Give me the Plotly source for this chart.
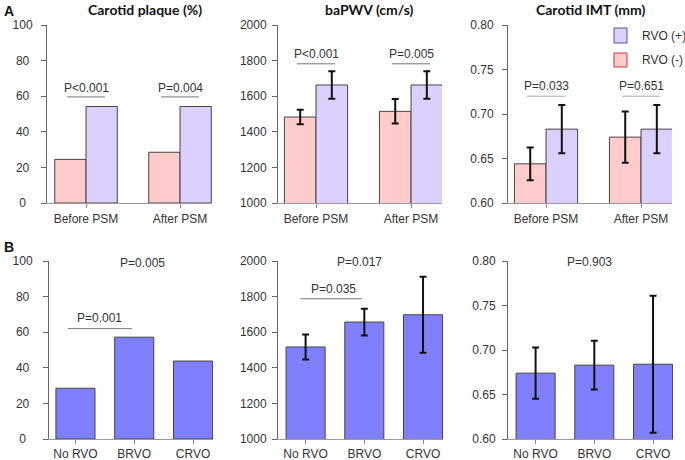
import plotly.graph_objects as go

# ---------------- data ----------------
groups_a = ["Before PSM", "After PSM"]
groups_b = ["No RVO", "BRVO", "CRVO"]

plaque_neg = [24.5, 28.5]
plaque_pos = [54.2, 54.2]

pwv_neg = [1483, 1515]
pwv_neg_err = [41, 69]
pwv_pos = [1663, 1663]
pwv_pos_err = [77, 77]

imt_neg = [0.644, 0.674]
imt_neg_err = [0.0185, 0.0287]
imt_pos = [0.683, 0.683]
imt_pos_err = [0.027, 0.027]

plaque_b = [28.5, 57.2, 43.8]
pwv_b = [1517, 1657, 1698]
pwv_b_err = [70, 75, 214]
imt_b = [0.674, 0.683, 0.684]
imt_b_err = [0.0287, 0.0275, 0.077]

titles = ["Carotid plaque (%)", "baPWV (cm/s)", "Carotid IMT (mm)"]
p_a = [["P<0.001", "P=0.004"], ["P<0.001", "P=0.005"], ["P=0.033", "P=0.651"]]
p_a_text_y = [64.6, 1838, 0.7315]
p_a_line_y = [59.6, 1782, 0.720]
p_b_overall = ["P=0.005", "P=0.017", "P=0.903"]
p_b_overall_y = [98.9, 1994, 0.799]
p_b_pair = ["P=0.001", "P=0.035", None]
p_b_pair_text_y = [68.2, 1843, None]
p_b_pair_line_y = [62, 1788, None]

yranges = [[0, 100], [1000, 2000], [0.6, 0.8]]
ytickvals = [[0, 20, 40, 60, 80, 100],
             [1000, 1200, 1400, 1600, 1800, 2000],
             [0.60, 0.65, 0.70, 0.75, 0.80]]
# labels are centred in the reference: pad short ones with figure/punctuation spaces
yticktext = [["0\u2007", "20\u2008", "40\u2008", "60\u2008", "80\u2008", "100"],
             ["1000", "1200", "1400", "1600", "1800", "2000"],
             ["0.60", "0.65", "0.70", "0.75", "0.80"]]

# ---------------- style ----------------
PINK = "#FFCCCC"
PURPLE = "#DCD0FF"
BLUE = "#8080FF"
EDGE = "#444444"
TXT = "#333333"
FONT = "Liberation Sans, Arial, sans-serif"
TFONT = "Lato, Liberation Sans, sans-serif"

W, H = 685, 460
def px(x):
    return x / W
def py(y):
    return 1 - y / H

xdom_a = [[47, 212], [278, 442], [508, 672]]
xdom_b = [[49, 213], [278, 443], [508, 673]]
ydom_a = [25, 203]
ydom_b = [261, 439]
xrange_a = [[-0.415, 1.34], [-0.4, 1.326], [-0.4, 1.326]]
xrange_b = [[-0.45, 2.34], [-0.47, 2.34], [-0.47, 2.34]]
ystandoff_a = [6, 3, 6]
ystandoff_b = [8, 3, 4]

fig = go.Figure()
err_style = dict(type="data", color="#111111", thickness=2, width=3.5, visible=True)

a_neg = [plaque_neg, pwv_neg, imt_neg]
a_neg_err = [None, pwv_neg_err, imt_neg_err]
a_pos = [plaque_pos, pwv_pos, imt_pos]
a_pos_err = [None, pwv_pos_err, imt_pos_err]
b_vals = [plaque_b, pwv_b, imt_b]
b_err = [None, pwv_b_err, imt_b_err]

layout = {}
for i in range(3):
    n = i + 1
    xa = "x" if n == 1 else f"x{n}"
    ya = "y" if n == 1 else f"y{n}"
    for vals, errs, col, name in [(a_neg[i], a_neg_err[i], PINK, "RVO (-)"),
                                  (a_pos[i], a_pos_err[i], PURPLE, "RVO (+)")]:
        fig.add_trace(go.Bar(
            x=groups_a, y=vals, name=name, showlegend=False,
            marker=dict(color=col, line=dict(color=EDGE, width=1)),
            error_y=dict(array=errs, **err_style) if errs else None,
            xaxis=xa, yaxis=ya))
    m = i + 4
    fig.add_trace(go.Bar(
        x=groups_b, y=b_vals[i], showlegend=False,
        marker=dict(color=BLUE, line=dict(color=EDGE, width=1)),
        error_y=dict(array=b_err[i], **err_style) if b_err[i] else None,
        xaxis=f"x{m}", yaxis=f"y{m}"))

    for k, (xd, yd, xr, so, xso) in [(n, (xdom_a[i], ydom_a, xrange_a[i], ystandoff_a[i], 1)),
                                     (m, (xdom_b[i], ydom_b, xrange_b[i], ystandoff_b[i], 0))]:
        xkey = "xaxis" if k == 1 else f"xaxis{k}"
        ykey = "yaxis" if k == 1 else f"yaxis{k}"
        layout[xkey] = dict(
            domain=[px(xd[0]), px(xd[1])], range=xr, anchor=("y" if k == 1 else f"y{k}"),
            showline=True, linecolor="#999999", linewidth=1,
            ticks="outside", ticklen=4, tickcolor="#888888", ticklabelstandoff=xso,
            showgrid=False, zeroline=False, tickfont=dict(family=FONT, size=12, color=TXT),
            automargin=False, fixedrange=True)
        layout[ykey] = dict(
            domain=[py(yd[1]), py(yd[0])], range=yranges[i], anchor=("x" if k == 1 else f"x{k}"),
            tickvals=ytickvals[i], ticktext=yticktext[i],
            showline=True, linecolor="#666666", linewidth=1, ticks="outside", ticklen=5,
            tickcolor="#666666", ticklabelstandoff=so,
            showgrid=False, zeroline=False, tickfont=dict(family=FONT, size=12, color=TXT),
            automargin=False, fixedrange=True)

annotations = []
shapes = []
for i in range(3):
    n = i + 1
    xr = "x" if n == 1 else f"x{n}"
    yr = "y" if n == 1 else f"y{n}"
    annotations.append(dict(text=f"<b>{titles[i]}</b>", x=[145, 369, 590][i] / W, y=py(9),
                            xref="paper", yref="paper", showarrow=False,
                            xanchor="center", yanchor="middle",
                            font=dict(family=TFONT, size=14, color="#111111")))
    for g in range(2):
        annotations.append(dict(text=p_a[i][g], x=g, y=p_a_text_y[i], xref=xr, yref=yr,
                                showarrow=False, xanchor="center", yanchor="middle",
                                font=dict(family=FONT, size=12, color=TXT)))
        shapes.append(dict(type="line", xref=xr, yref=yr, x0=g - 0.2, x1=g + 0.2,
                           y0=p_a_line_y[i], y1=p_a_line_y[i],
                           line=dict(color="#777777" if i < 2 else "#AAAAAA", width=1)))
    m = i + 4
    xr = f"x{m}"
    yr = f"y{m}"
    annotations.append(dict(text=p_b_overall[i], x=[1.14, 0.92, 0.92][i], y=p_b_overall_y[i],
                            xref=xr, yref=yr, showarrow=False, xanchor="center",
                            yanchor="middle", font=dict(family=FONT, size=12, color=TXT)))
    if p_b_pair[i]:
        annotations.append(dict(text=p_b_pair[i], x=[0.41, 0.47][i], y=p_b_pair_text_y[i],
                                xref=xr, yref=yr, showarrow=False, xanchor="center",
                                yanchor="middle", font=dict(family=FONT, size=12, color=TXT)))
        shapes.append(dict(type="line", xref=xr, yref=yr, x0=[-0.13, -0.09][i], x1=0.96,
                           y0=p_b_pair_line_y[i], y1=p_b_pair_line_y[i],
                           line=dict(color="#777777", width=1)))

annotations.append(dict(text="<b>A</b>", x=px(2), y=py(11), xref="paper", yref="paper",
                        showarrow=False, xanchor="left", yanchor="middle",
                        font=dict(family=FONT, size=14, color="#111111")))
annotations.append(dict(text="<b>B</b>", x=px(2), y=py(247), xref="paper", yref="paper",
                        showarrow=False, xanchor="left", yanchor="middle",
                        font=dict(family=FONT, size=14, color="#111111")))

legend_items = [("RVO (+)", PURPLE, "#4A5A8A", 28, 43), ("RVO (-)", PINK, "#D03030", 53, 67)]
for label, fill, edge, y0, y1 in legend_items:
    shapes.append(dict(type="rect", xref="paper", yref="paper", x0=px(614), x1=px(627),
                       y0=py(y1), y1=py(y0), fillcolor=fill, line=dict(color=edge, width=1)))
    annotations.append(dict(text=label, x=px(640), y=py((y0 + y1) / 2), xref="paper",
                            yref="paper", showarrow=False, xanchor="left", yanchor="middle",
                            font=dict(family=FONT, size=12, color=TXT)))

fig.update_layout(
    width=W, height=H, margin=dict(l=0, r=0, t=0, b=0, autoexpand=False),
    paper_bgcolor="white", plot_bgcolor="white",
    barmode="group", bargap=0.335, bargroupgap=0,
    showlegend=False, annotations=annotations, shapes=shapes,
    **layout)

fig.write_html("out.html", config={"displayModeBar": False},
               post_script="document.body.style.margin='0';document.body.style.overflow='hidden';")
